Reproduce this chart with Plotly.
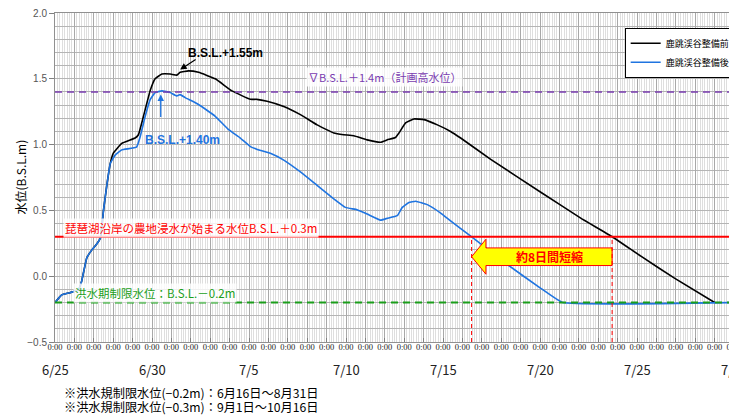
import numpy as np
import plotly.graph_objects as go

# ---- data (days since 6/25 0:00, water level in B.S.L. m) ----
days_before = [0, 0.34, 0.77, 1.2, 1.37, 1.64, 1.9, 2.16, 2.34, 2.5, 2.68, 2.85, 3.0, 3.44,
               4.13, 4.3, 4.56, 4.9, 5.16, 5.51, 5.94, 6.28, 6.45, 6.88, 7.4, 8.26, 9.12,
               10.07, 10.4, 10.93, 11.79, 12.65, 13.51, 14.37, 14.88, 15.4, 16.09, 16.78,
               17.13, 17.55, 17.73, 18.07, 18.5, 19.02, 19.71, 20.39, 20.91, 22.46, 25.04,
               27.1, 28.74, 30.2, 31.93, 34.0]
level_before = [-0.2, -0.143, -0.125, -0.105, -0.04, 0.14, 0.20, 0.246, 0.29, 0.50, 0.70, 0.857,
                0.934, 1.01, 1.05, 1.075, 1.215, 1.408, 1.50, 1.536, 1.536, 1.528, 1.549, 1.56,
                1.549, 1.50, 1.408, 1.344, 1.344, 1.33, 1.29, 1.228, 1.15, 1.088, 1.075, 1.067,
                1.036, 1.018, 1.036, 1.054, 1.088, 1.165, 1.195, 1.19, 1.15, 1.10, 1.05, 0.888,
                0.638, 0.441, 0.298, 0.152, -0.015, -0.2]

days_after = [0, 0.34, 0.77, 1.2, 1.37, 1.64, 1.9, 2.16, 2.34, 2.5, 2.68, 2.85, 3.1, 3.44,
              4.2, 4.39, 4.65, 4.9, 5.16, 5.51, 5.94, 6.28, 6.45, 6.71, 7.4, 8.26, 8.95, 9.55,
              10.07, 10.4, 11.1, 11.79, 12.65, 13.51, 14.37, 14.97, 15.57, 16.09, 16.78, 17.13,
              17.64, 17.9, 18.24, 18.59, 19.19, 19.88, 20.39, 21.43, 23.32, 25.04, 26.16, 35.0]
level_after = [-0.2, -0.143, -0.125, -0.105, -0.04, 0.14, 0.20, 0.246, 0.29, 0.50, 0.70, 0.857,
               0.92, 0.96, 0.98, 1.06, 1.215, 1.34, 1.395, 1.408, 1.395, 1.37, 1.38, 1.357, 1.305,
               1.215, 1.113, 1.05, 0.985, 0.965, 0.934, 0.882, 0.792, 0.69, 0.588, 0.523, 0.505,
               0.472, 0.426, 0.44, 0.46, 0.523, 0.56, 0.57, 0.544, 0.48, 0.42, 0.305, 0.088,
               -0.092, -0.2, -0.2]

day_ticks = list(range(0, 36))
day_tick_text = ["0:00"] * 36
date_label_days = [0, 5, 10, 15, 20, 25, 30, 35]
date_labels = ["6/25", "6/30", "7/5", "7/10", "7/15", "7/20", "7/25", "7/30"]

ref_high = 1.4    # 計画高水位
ref_flood = 0.3   # 農地浸水
ref_limit = -0.2  # 洪水期制限水位
peak_before_day, peak_before_val = 6.45, 1.55
peak_after_day, peak_after_val = 5.45, 1.40

series_names = ["鹿跳渓谷整備前", "鹿跳渓谷整備後"]
notes = ["※洪水規制限水位(−0.2m)：6月16日～8月31日",
         "※洪水規制限水位(−0.3m)：9月1日～10月16日"]


def crossing(days, levels, thr):
    d = np.array(days, float)
    l = np.array(levels, float)
    i = int(np.argmax(l))
    for j in range(i, len(l) - 1):
        if l[j] >= thr >= l[j + 1]:
            return d[j] + (l[j] - thr) / (l[j] - l[j + 1]) * (d[j + 1] - d[j])
    return d[-1]


x_after = crossing(days_after, level_after, ref_flood)
x_before = crossing(days_before, level_before, ref_flood)

BLUE = "#1f74e0"
RED = "#ff0000"
GREEN = "#1a9e1a"
PURPLE = "#7a3cb0"
JP = "Noto Sans CJK JP"
NARROW = "Liberation Sans Narrow, Liberation Sans"

fig = go.Figure()

fig.add_trace(go.Scatter(x=days_before, y=level_before, mode="lines", name=series_names[0],
                         line=dict(color="#000000", width=1.6, shape="spline", smoothing=0.3),
                         legendgroup="a"))
fig.add_trace(go.Scatter(x=days_after, y=level_after, mode="lines", name=series_names[1],
                         line=dict(color=BLUE, width=1.6, shape="spline", smoothing=0.3),
                         legendgroup="b"))

# arrow polygon (yellow) between crossing days
ay_mid, body_h, head_h, head_len = 0.148, 0.067, 0.133, 0.74
hx = x_after + head_len
arrow_x = [x_after, hx, hx, x_before, x_before, hx, hx, x_after]
arrow_y = [ay_mid, ay_mid + head_h, ay_mid + body_h, ay_mid + body_h,
           ay_mid - body_h, ay_mid - body_h, ay_mid - head_h, ay_mid]
fig.add_trace(go.Scatter(x=arrow_x, y=arrow_y, mode="lines", fill="toself",
                         fillcolor="#ffff00", line=dict(color=RED, width=1),
                         showlegend=False, hoverinfo="skip"))

shapes = [
    dict(type="line", xref="paper", x0=0, x1=1, y0=ref_high, y1=ref_high,
         line=dict(color=PURPLE, width=1.6, dash="7px,5px"), layer="above"),
    dict(type="line", xref="paper", x0=0, x1=1, y0=ref_flood, y1=ref_flood,
         line=dict(color=RED, width=2), layer="above"),
    dict(type="line", xref="paper", x0=0, x1=1, y0=ref_limit, y1=ref_limit,
         line=dict(color=GREEN, width=2, dash="7px,5px"), layer="above"),
    dict(type="line", x0=x_after, x1=x_after, y0=-0.5, y1=ref_flood,
         line=dict(color=RED, width=1, dash="4px,3px"), layer="above"),
    dict(type="line", x0=x_before, x1=x_before, y0=-0.5, y1=ref_flood,
         line=dict(color=RED, width=1, dash="4px,3px"), layer="above"),
]

annotations = []
for d, t in zip(date_label_days, date_labels):
    annotations.append(dict(x=d, y=0, yref="paper", text=t, showarrow=False,
                            yanchor="middle", yshift=-27,
                            font=dict(family=JP, size=13, color="#222")))
for k, t in enumerate(notes):
    annotations.append(dict(x=0.011, xref="paper", xanchor="left", y=0, yref="paper",
                            yanchor="middle", yshift=-51 - 14 * k, text=t, showarrow=False,
                            font=dict(family=JP, size=12.2, color="#000")))
annotations.append(dict(x=0, xref="paper", xanchor="center", y=0.5, yref="paper",
                        xshift=-35, textangle=-90,
                        text="水位(B.S.L.m)", showarrow=False,
                        font=dict(family=JP, size=12, color="#000")))

annotations += [
    dict(x=17.0, y=1.51, text="∇B.S.L.＋1.4m（計画高水位）", showarrow=False,
         font=dict(family=JP, size=11, color=PURPLE), bgcolor="rgba(255,255,255,0.8)"),
    dict(x=0.4, y=0.37, xanchor="left", text="琵琶湖沿岸の農地浸水が始まる水位B.S.L.＋0.3m",
         showarrow=False, font=dict(family=JP, size=11.5, color=RED),
         bgcolor="rgba(255,255,255,0.8)"),
    dict(x=0.95, y=-0.125, xanchor="left", text="洪水期制限水位：B.S.L.－0.2m", showarrow=False,
         font=dict(family=JP, size=11.5, color=GREEN), bgcolor="rgba(255,255,255,0.8)"),
    dict(x=(hx + x_before) / 2, y=ay_mid, text="<b>約8日間短縮</b>", showarrow=False,
         font=dict(family=JP, size=12, color=RED)),
    # peak labels
    dict(x=peak_before_day, y=peak_before_val, text="<b>B.S.L.+1.55m</b>", showarrow=False,
         xshift=45, yshift=19, font=dict(family=NARROW, size=12, color="#000")),
    dict(x=peak_before_day, y=peak_before_val + 0.02, text="", showarrow=True, arrowhead=2,
         arrowsize=1, arrowwidth=1.3, arrowcolor="#000", ax=17, ay=-11),
    dict(x=peak_after_day, y=peak_after_val, text="<b>B.S.L.+1.40m</b>", showarrow=False,
         xshift=22, yshift=-48, font=dict(family=NARROW, size=12, color=BLUE)),
    dict(x=peak_after_day, y=peak_after_val - 0.02, text="", showarrow=True, arrowhead=2,
         arrowsize=1, arrowwidth=1.3, arrowcolor=BLUE, ax=0, ay=24),
]

# the page body adds an 8px offset; size the figure so the plot sits where the reference has it
fig.update_layout(
    width=729, height=411,
    margin=dict(l=47, r=3, t=5, b=77, autoexpand=False),
    plot_bgcolor="#ffffff", paper_bgcolor="#ffffff",
    shapes=shapes, annotations=annotations,
    legend=dict(x=0.839, y=0.955, xanchor="left", yanchor="top", bgcolor="#ffffff",
                bordercolor="#000000", borderwidth=1, tracegroupgap=0, itemwidth=30,
                font=dict(family=JP, size=9, color="#000")),
    xaxis=dict(range=[0, 35], tickmode="array", tickvals=day_ticks, ticktext=day_tick_text,
               showgrid=True, gridcolor="#a8a8a8", gridwidth=1,
               minor=dict(dtick=0.125, tick0=0, showgrid=True, gridcolor="#dedede", gridwidth=1),
               showline=True, linecolor="#909090", mirror=True,
               ticks="inside", ticklen=4, tickcolor="#808080",
               ticklabelstandoff=-3, ticklabeloverflow="allow", automargin=False,
               tickfont=dict(family="Liberation Serif", size=8.5, color="#222"),
               zeroline=False, fixedrange=True),
    yaxis=dict(range=[-0.5, 2.0], dtick=0.5, tickformat=".1f",
               showgrid=True, gridcolor="#b4b4b4", gridwidth=1,
               minor=dict(dtick=0.1, showgrid=True, gridcolor="#b4b4b4", gridwidth=1),
               showline=True, linecolor="#909090", mirror=True,
               ticks="outside", ticklen=5, tickcolor="#808080",
               ticklabeloverflow="allow", automargin=False,
               tickfont=dict(family="Liberation Sans", size=10, color="#555"),
               zeroline=False),
)

fig.write_html("out.html")
